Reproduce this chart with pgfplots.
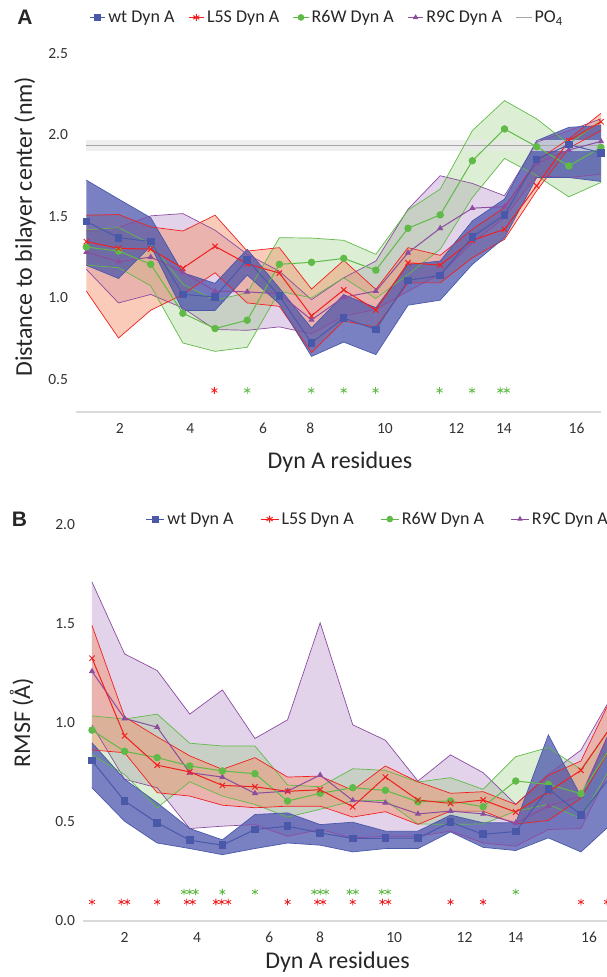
\documentclass[border=0pt]{standalone}
\usepackage{fontspec}
\setmainfont{Carlito}
\newfontfamily\labelfont{Liberation Sans}
\usepackage{pgfplots}
\pgfplotsset{compat=1.18}
\usepackage{pgfplotstable}
\usepgfplotslibrary{fillbetween}

\definecolor{cwt}{RGB}{74,88,170}
\definecolor{cls}{RGB}{240,32,32}
\definecolor{crw}{RGB}{96,186,72}
\definecolor{crc}{RGB}{140,76,160}
\definecolor{fwt}{RGB}{70,80,170}
\definecolor{fls}{RGB}{245,140,100}
\definecolor{frw}{RGB}{140,200,110}
\definecolor{frc}{RGB}{160,110,190}
\definecolor{axgray}{RGB}{217,217,217}
\definecolor{pogray}{RGB}{166,166,166}
\definecolor{poband}{RGB}{232,232,232}

\pgfplotstableread{
x wt wtU wtL ls lsU lsL rw rwU rwL rc rcU rcL
1 1.468 1.722 1.200 1.345 1.507 1.041 1.312 1.417 1.201 1.281 1.410 1.175
2 1.369 1.606 1.119 1.304 1.511 0.754 1.287 1.431 1.185 1.222 1.431 0.969
3 1.345 1.492 1.318 1.299 1.435 0.924 1.206 1.330 1.074 1.250 1.503 1.021
4 1.021 1.154 0.922 1.182 1.410 1.021 0.906 1.084 0.723 1.158 1.517 0.938
5 1.006 1.089 0.923 1.316 1.507 1.154 0.812 0.986 0.672 1.041 1.415 0.806
6 1.234 1.298 1.140 1.209 1.287 0.969 0.863 1.031 0.697 1.037 1.267 0.801
7 1.012 1.060 0.963 1.152 1.308 0.948 1.206 1.369 1.041 1.025 1.164 0.822
8 0.724 0.815 0.641 0.890 1.054 0.665 1.218 1.367 1.000 0.865 0.989 0.780
9 0.877 1.020 0.729 1.049 1.230 0.859 1.242 1.353 1.123 1.004 1.123 0.887
10 0.806 0.940 0.652 0.926 1.052 0.820 1.170 1.267 0.996 1.041 1.226 0.929
11 1.107 1.205 0.955 1.215 1.308 1.092 1.427 1.538 1.144 1.277 1.544 1.041
12 1.138 1.226 0.986 1.201 1.261 1.092 1.509 1.667 1.298 1.427 1.749 1.146
13 1.374 1.472 1.205 1.353 1.421 1.246 1.841 2.026 1.615 1.550 1.702 1.338
14 1.509 1.606 1.369 1.421 1.554 1.359 2.036 2.210 1.855 1.560 1.626 1.492
15 1.849 1.964 1.738 1.687 1.841 1.657 1.927 2.098 1.749 1.825 1.954 1.749
16 1.940 2.046 1.738 1.964 1.975 1.919 1.809 1.944 1.620 1.907 2.026 1.738
17 1.890 2.057 1.714 2.080 2.132 2.026 1.923 2.087 1.708 1.960 2.098 1.759
}\dataA

\pgfplotstableread{
x wt wtU wtL ls lsU lsL rw rwU rwL rc rcU rcL
1 0.810 0.900 0.673 1.327 1.493 0.864 0.964 1.036 0.840 1.261 1.712 0.990
2 0.606 0.716 0.504 0.935 1.031 0.850 0.857 1.020 0.740 1.023 1.349 0.716
3 0.496 0.597 0.394 0.787 0.930 0.648 0.825 1.045 0.572 0.979 1.265 0.673
4 0.408 0.467 0.366 0.753 0.834 0.631 0.783 0.898 0.703 0.749 1.045 0.467
5 0.383 0.410 0.335 0.685 0.766 0.585 0.758 0.884 0.631 0.727 1.167 0.479
6 0.462 0.538 0.366 0.678 0.825 0.572 0.744 0.884 0.589 0.645 0.922 0.487
7 0.479 0.546 0.394 0.655 0.727 0.580 0.606 0.687 0.525 0.656 1.016 0.428
8 0.445 0.487 0.383 0.663 0.732 0.580 0.645 0.678 0.564 0.737 1.506 0.462
9 0.417 0.499 0.349 0.577 0.660 0.525 0.673 0.769 0.606 0.609 0.991 0.420
10 0.418 0.454 0.366 0.727 0.783 0.552 0.660 0.761 0.609 0.597 0.913 0.428
11 0.418 0.454 0.366 0.611 0.703 0.488 0.602 0.702 0.490 0.541 0.707 0.428
12 0.499 0.535 0.450 0.594 0.645 0.555 0.606 0.724 0.488 0.555 0.839 0.454
13 0.438 0.496 0.372 0.611 0.653 0.555 0.577 0.665 0.490 0.541 0.749 0.394
14 0.452 0.496 0.356 0.550 0.589 0.490 0.707 0.830 0.555 0.496 0.589 0.378
15 0.668 0.940 0.420 0.653 0.736 0.508 0.690 0.876 0.589 0.580 0.741 0.462
16 0.536 0.630 0.349 0.761 0.808 0.620 0.643 0.766 0.518 0.631 0.863 0.467
17 0.750 1.000 0.500 1.000 1.150 0.900 0.900 1.000 0.800 1.000 1.150 0.800
}\dataB

\pgfplotsset{
  common/.style={
    scale only axis,
    axis x line*=bottom, axis y line*=left,
    x axis line style={axgray, line width=1.6pt, -},
    y axis line style={draw=none},
    major tick length=0pt,
    xticklabels={2,4,6,8,10,12,14,16},
    /pgf/number format/assume math mode=true,
    yticklabel style={/pgf/number format/fixed, /pgf/number format/fixed zerofill, /pgf/number format/precision=1},
    ticklabel style={font=\fontsize{15.5}{18}\selectfont, text=black!80},
    xticklabel style={anchor=center, yshift=-16.7pt, inner sep=0pt},
    yticklabel style={anchor=east, xshift=-7.5pt, inner sep=0pt},
    extra x ticks={1,...,17},
    extra x tick labels={},
    extra x tick style={grid=major, major grid style={white, line width=0.9pt}},
    label style={font=\fontsize{24}{28}\selectfont, text=black!85},
    legend style={draw=none, fill=none, inner sep=0pt, outer sep=0pt,
      font=\fontsize{18}{21}\selectfont, text=black!85,
      nodes={inner sep=2.5pt}},
    legend cell align=left,
  },
  bnd/.style={line width=0.7pt, forget plot},
  mean/.style={line width=1.0pt, forget plot},
  mwt/.style={cwt, mark=square*, mark size=3.3pt, mark options={solid, fill=cwt}},
  mls/.style={cls, mark=x, mark size=3.8pt, mark options={solid, line width=1pt}},
  mrw/.style={crw, mark=*, mark size=3.2pt, mark options={solid, fill=crw}},
  mrc/.style={crc, mark=triangle*, mark size=2.6pt, mark options={solid, fill=crc}},
}

\begin{document}
\begin{tikzpicture}[x=1pt,y=1pt]

% ================= Panel A =================
\begin{axis}[common,
  at={(75.7pt,-412pt)}, anchor=south west,
  width=525.3pt, height=358.7pt,
  xmin=0.668, xmax=17, ymin=0.3, ymax=2.5,
  xtick={2.04,4.23,6.49,7.96,10.28,12.5,13.98,16.24},
  ytick={0.5,1,1.5,2,2.5},
  xlabel={Dyn A residues},
  xlabel style={at={(axis description cs:0.503,-0.141)}, anchor=center},
  ylabel={Distance to bilayer center (nm)},
  ylabel style={at={(axis description cs:-0.0965,0.5166)}, anchor=center},
  legend columns=5,
  legend style={at={(axis description cs:0.026,1.100)}, anchor=west,
    /tikz/every even column/.append style={column sep=11pt}},
  legend image code/.code={\draw[mark repeat=2, mark phase=2, line width=1pt, #1] plot coordinates {(0pt,0pt) (7.75pt,0pt) (15.5pt,0pt)};},
]
% invisible boundary paths
\addplot[draw=none, forget plot, name path=AwtU] table[x=x,y=wtU]{\dataA};
\addplot[draw=none, forget plot, name path=AwtL] table[x=x,y=wtL]{\dataA};
\addplot[draw=none, forget plot, name path=AlsU] table[x=x,y=lsU]{\dataA};
\addplot[draw=none, forget plot, name path=AlsL] table[x=x,y=lsL]{\dataA};
\addplot[draw=none, forget plot, name path=ArwU] table[x=x,y=rwU]{\dataA};
\addplot[draw=none, forget plot, name path=ArwL] table[x=x,y=rwL]{\dataA};
\addplot[draw=none, forget plot, name path=ArcU] table[x=x,y=rcU]{\dataA};
\addplot[draw=none, forget plot, name path=ArcL] table[x=x,y=rcL]{\dataA};
% fills
\addplot[fill=frc, fill opacity=0.3, draw=none, forget plot] fill between[of=ArcU and ArcL];
\addplot[fill=frw, fill opacity=0.3, draw=none, forget plot] fill between[of=ArwU and ArwL];
\addplot[fill=fls, fill opacity=0.45, draw=none, forget plot] fill between[of=AlsU and AlsL];
\addplot[fill=fwt, fill opacity=0.72, draw=none, forget plot] fill between[of=AwtU and AwtL];
% PO4 band and line
\addplot[fill=poband, fill opacity=0.7, draw=none, forget plot] coordinates {(1,1.90) (17,1.90) (17,1.97) (1,1.97)} -- cycle;
\addplot[pogray, line width=1.6pt, forget plot] coordinates {(1,1.935) (17,1.935)};
% boundary lines
\addplot[bnd, crc] table[x=x,y=rcU]{\dataA};
\addplot[bnd, crc] table[x=x,y=rcL]{\dataA};
\addplot[bnd, crw] table[x=x,y=rwU]{\dataA};
\addplot[bnd, crw] table[x=x,y=rwL]{\dataA};
\addplot[bnd, cls] table[x=x,y=lsU]{\dataA};
\addplot[bnd, cls] table[x=x,y=lsL]{\dataA};
\addplot[bnd, cwt] table[x=x,y=wtU]{\dataA};
\addplot[bnd, cwt] table[x=x,y=wtL]{\dataA};
% mean lines
\addplot[mean, mrc] table[x=x,y=rc]{\dataA};
\addplot[mean, mrw] table[x=x,y=rw]{\dataA};
\addplot[mean, mls] table[x=x,y=ls]{\dataA};
\addplot[mean, mwt] table[x=x,y=wt]{\dataA};
% significance stars
\addplot[only marks, forget plot, mark=asterisk, mark size=3.5pt, cls, mark options={line width=0.8pt}] coordinates {(4.98,0.432)};
\addplot[only marks, forget plot, mark=asterisk, mark size=3.5pt, crw, mark options={line width=0.8pt}] coordinates {(6.0,0.432) (7.99,0.432) (9.0,0.432) (9.99,0.432) (11.98,0.432) (12.99,0.432) (13.87,0.432) (14.07,0.432)};
% legend
\addlegendimage{cwt, mark=square*, mark size=3pt, mark options={fill=cwt}}
\addlegendentry{wt Dyn A}
\addlegendimage{cls, mark=asterisk, mark size=3.5pt}
\addlegendentry{L5S Dyn A}
\addlegendimage{crw, mark=*, mark size=2.8pt}
\addlegendentry{R6W Dyn A}
\addlegendimage{crc, mark=triangle*, mark size=2.3pt}
\addlegendentry{R9C Dyn A}
\addlegendimage{pogray}
\addlegendentry{PO\textsubscript{4}}
\end{axis}

% ================= Panel B =================
\begin{axis}[common,
  at={(82.7pt,-921pt)}, anchor=south west,
  width=524.3pt, height=396pt,
  xmin=0.715, xmax=16.80, ymin=0, ymax=2.0,
  xtick={2,4.22,6.44,8,10.27,12.43,14,16.25},
  ytick={0,0.5,1,1.5,2},
  xlabel={Dyn A residues},
  xlabel style={at={(axis description cs:0.486,-0.104)}, anchor=center},
  ylabel={RMSF (Å)},
  ylabel style={at={(axis description cs:-0.1163,0.501)}, anchor=center},
  legend columns=4,
  legend style={at={(axis description cs:0.1207,1.015)}, anchor=west,
    /tikz/every even column/.append style={column sep=24pt}},
  legend image code/.code={\draw[mark repeat=2, mark phase=2, line width=1pt, #1] plot coordinates {(0pt,0pt) (9pt,0pt) (18pt,0pt)};},
]
\addplot[draw=none, forget plot, name path=BwtU] table[x=x,y=wtU]{\dataB};
\addplot[draw=none, forget plot, name path=BwtL] table[x=x,y=wtL]{\dataB};
\addplot[draw=none, forget plot, name path=BlsU] table[x=x,y=lsU]{\dataB};
\addplot[draw=none, forget plot, name path=BlsL] table[x=x,y=lsL]{\dataB};
\addplot[draw=none, forget plot, name path=BrwU] table[x=x,y=rwU]{\dataB};
\addplot[draw=none, forget plot, name path=BrwL] table[x=x,y=rwL]{\dataB};
\addplot[draw=none, forget plot, name path=BrcU] table[x=x,y=rcU]{\dataB};
\addplot[draw=none, forget plot, name path=BrcL] table[x=x,y=rcL]{\dataB};
\addplot[fill=frc, fill opacity=0.3, draw=none, forget plot] fill between[of=BrcU and BrcL];
\addplot[fill=frw, fill opacity=0.3, draw=none, forget plot] fill between[of=BrwU and BrwL];
\addplot[fill=fls, fill opacity=0.45, draw=none, forget plot] fill between[of=BlsU and BlsL];
\addplot[fill=fwt, fill opacity=0.72, draw=none, forget plot] fill between[of=BwtU and BwtL];
\addplot[bnd, crc] table[x=x,y=rcU]{\dataB};
\addplot[bnd, crc] table[x=x,y=rcL]{\dataB};
\addplot[bnd, crw] table[x=x,y=rwU]{\dataB};
\addplot[bnd, crw] table[x=x,y=rwL]{\dataB};
\addplot[bnd, cls] table[x=x,y=lsU]{\dataB};
\addplot[bnd, cls] table[x=x,y=lsL]{\dataB};
\addplot[bnd, cwt] table[x=x,y=wtU]{\dataB};
\addplot[bnd, cwt] table[x=x,y=wtL]{\dataB};
\addplot[mean, mrc] table[x=x,y=rc]{\dataB};
\addplot[mean, mrw] table[x=x,y=rw]{\dataB};
\addplot[mean, mls] table[x=x,y=ls]{\dataB};
\addplot[mean, mwt] table[x=x,y=wt]{\dataB};
\addplot[only marks, forget plot, mark=asterisk, mark size=3.3pt, cls, mark options={line width=0.8pt}] coordinates {
 (1,0.096) (1.90,0.096) (2.08,0.096) (3,0.096) (3.91,0.096) (4.09,0.096) (4.80,0.096) (4.98,0.096) (5.18,0.096)
 (7,0.096) (7.91,0.096) (8.09,0.096) (9,0.096) (9.91,0.096) (10.09,0.096) (12,0.096) (13,0.096) (16,0.096) (16.80,0.096)};
\addplot[only marks, forget plot, mark=asterisk, mark size=3.3pt, crw, mark options={line width=0.8pt}] coordinates {
 (3.82,0.147) (4.0,0.147) (4.18,0.147) (5.0,0.147) (6.0,0.147) (7.82,0.147) (8.0,0.147) (8.18,0.147)
 (8.90,0.147) (9.09,0.147) (9.89,0.147) (10.08,0.147) (14.0,0.147)};
\addlegendimage{cwt, mark=square*, mark size=3pt, mark options={fill=cwt}}
\addlegendentry{wt Dyn A}
\addlegendimage{cls, mark=asterisk, mark size=3.5pt}
\addlegendentry{L5S Dyn A}
\addlegendimage{crw, mark=*, mark size=2.8pt}
\addlegendentry{R6W Dyn A}
\addlegendimage{crc, mark=triangle*, mark size=2.3pt}
\addlegendentry{R9C Dyn A}
\end{axis}

\node[font=\labelfont\bfseries\fontsize{21}{24}\selectfont, text=black!85] at (25pt,-17.4pt) {A};
\node[font=\labelfont\bfseries\fontsize{21}{24}\selectfont, text=black!85] at (19.4pt,-519pt) {B};

\pgfresetboundingbox
\useasboundingbox (0pt,0pt) rectangle (607pt,-977pt);
\end{tikzpicture}
\end{document}
